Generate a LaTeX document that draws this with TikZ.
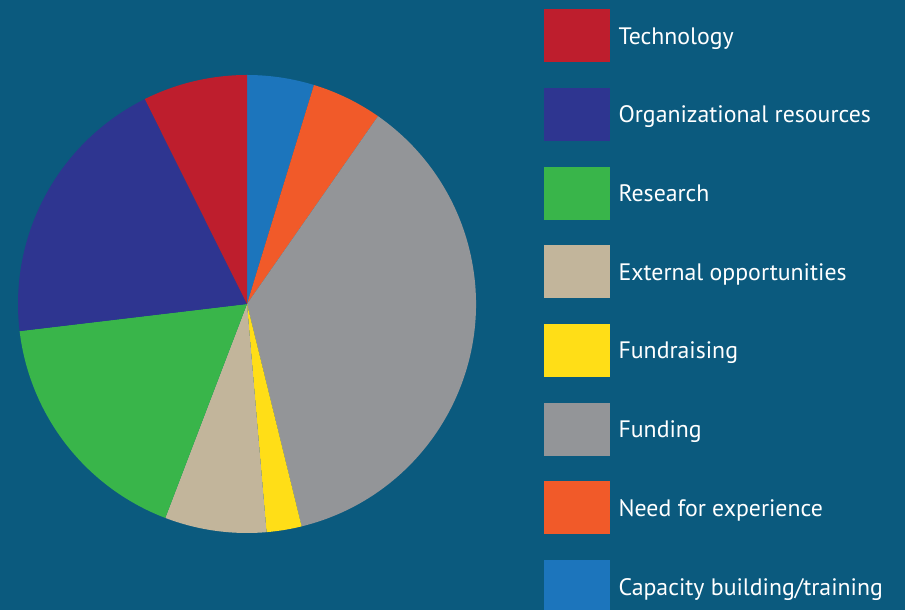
\documentclass[tikz,border=0pt]{standalone}
\usepackage{fontspec}
\setmainfont{PT Sans}
\definecolor{bg}{HTML}{0B5A7E}
\definecolor{cRed}{HTML}{BE1E2D}
\definecolor{cDBlue}{HTML}{2E3590}
\definecolor{cGreen}{HTML}{39B54A}
\definecolor{cTan}{HTML}{C2B59B}
\definecolor{cYellow}{HTML}{FFDE17}
\definecolor{cGray}{HTML}{939598}
\definecolor{cOrange}{HTML}{F15A29}
\definecolor{cBlue}{HTML}{1C75BC}
\tikzset{
  swatch/.style={minimum width=66pt, minimum height=53pt, inner sep=0pt, anchor=north west},
  legtext/.style={text=white, font=\fontsize{23.8}{28}\selectfont, anchor=base west, inner sep=0pt},
}
\begin{document}
\begin{tikzpicture}[x=1pt,y=1pt]
\fill[bg] (0,0) rectangle (905,610);
\useasboundingbox (0,0) rectangle (905,610);
\coordinate (c) at (247,306);
\def\R{229}
\fill[cBlue]   (c) -- ++(73:\R) arc[start angle=73, end angle=90, radius=\R] -- cycle;
\fill[cOrange] (c) -- ++(55.1:\R) arc[start angle=55.1, end angle=73, radius=\R] -- cycle;
\fill[cGray]   (c) -- ++(-76.2:\R) arc[start angle=-76.2, end angle=55.1, radius=\R] -- cycle;
\fill[cYellow] (c) -- ++(-85.1:\R) arc[start angle=-85.1, end angle=-76.2, radius=\R] -- cycle;
\fill[cTan]    (c) -- ++(-110.9:\R) arc[start angle=-110.9, end angle=-85.1, radius=\R] -- cycle;
\fill[cGreen]  (c) -- ++(-173.2:\R) arc[start angle=-173.2, end angle=-110.9, radius=\R] -- cycle;
\fill[cDBlue]  (c) -- ++(116.5:\R) arc[start angle=116.5, end angle=186.8, radius=\R] -- cycle;
\fill[cRed]    (c) -- ++(90:\R) arc[start angle=90, end angle=116.5, radius=\R] -- cycle;
% legend
\foreach \i/\col/\txt in {0/cRed/Technology,1/cDBlue/Organizational resources,2/cGreen/Research,3/cTan/External opportunities,4/cYellow/Fundraising,5/cGray/Funding,6/cOrange/Need for experience,7/cBlue/Capacity building\slash training}{
  \node[swatch, fill=\col] (sw\i) at (544,{601-78.7*\i}) {};
  \node[legtext] (lt\i) at ([xshift=8pt,yshift=-8.5pt]sw\i.east) {\txt};
}
\end{tikzpicture}
\end{document}
